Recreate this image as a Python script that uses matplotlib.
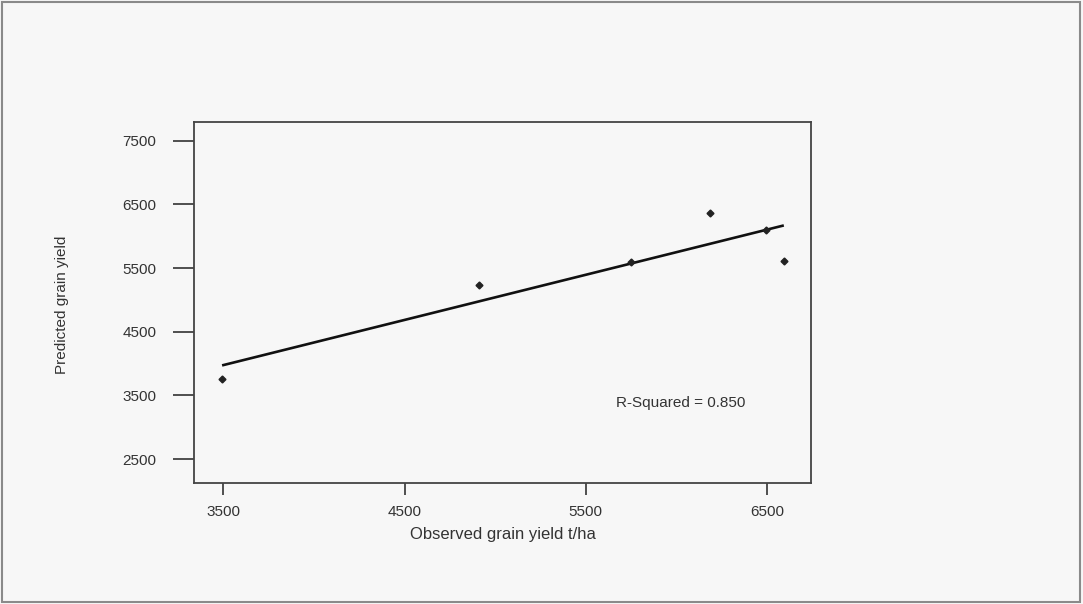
import numpy as np
import matplotlib.pyplot as plt
from matplotlib.patches import Rectangle

# Observed vs predicted grain yield
observed = [3493, 4910, 5749, 6188, 6496, 6593]
predicted = [3759, 5235, 5600, 6360, 6098, 5616]
x_ticks = [3500, 4500, 5500, 6500]
y_ticks = [2500, 3500, 4500, 5500, 6500, 7500]
r2_label = "R-Squared = 0.850"

plt.rcParams['font.family'] = ['Liberation Sans', 'DejaVu Sans']

bg = '#f7f7f7'
fig = plt.figure(figsize=(10.83, 6.04), dpi=100, facecolor=bg)
ax = fig.add_axes([194/1083, 121/604, 617/1083, 361/604], facecolor=bg)

# least squares line through the points
slope, intercept = np.polyfit(observed, predicted, 1)
xs = np.array([min(observed), max(observed)])
ax.plot(xs, slope*xs + intercept, color='#111111', lw=1.9, solid_capstyle='butt')
ax.plot(observed, predicted, 'D', color='#222222', markersize=3.5, ls='none')

ax.set_xlim(3338, 6743)
ax.set_ylim(2123, 7794)
ax.set_xticks(x_ticks)
ax.set_yticks(y_ticks)
ax.tick_params(axis='y', length=15, width=1.2, pad=12, labelsize=11, colors='#333333')
ax.tick_params(axis='x', length=8.5, width=1.2, pad=7, labelsize=11, colors='#333333')
for s in ax.spines.values():
    s.set_color('#444444')
    s.set_linewidth(1.3)

ax.set_xlabel('Observed grain yield t/ha', fontsize=12, color='#333333', labelpad=6)
fig.text(62/1083, 1 - 305/604, 'Predicted grain yield', rotation=90, fontsize=11,
         color='#333333', ha='center', va='center')
ax.text(0.684, 0.222, r2_label, transform=ax.transAxes, fontsize=11,
        color='#333333', ha='left', va='center')

# scan frame round the picture
fig.patches.append(Rectangle((0.002, 0.003), 0.995, 0.994, transform=fig.transFigure,
                             fill=False, edgecolor='#8a8a8a', lw=1.5))

fig.savefig('out.png', dpi=100, facecolor=bg)
